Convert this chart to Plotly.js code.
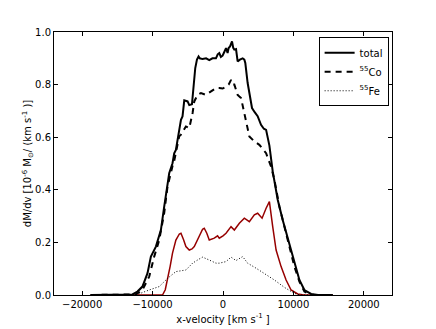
<!DOCTYPE html>
<html>
<head>
<meta charset="utf-8">
<script src="https://cdn.plot.ly/plotly-3.0.1.min.js"></script>
<style>
  html, body { margin: 0; padding: 0; background: #fff; }
  #chart { width: 436px; height: 329px; }
</style>
</head>
<body>
<div id="chart"></div>
<script>
'use strict';

// velocity grid (km/s) and dM/dv values (1e-6 Msun per km/s)
const totalV = [-18800, -13500, -12860, -12150, -11440, -10720, -10240, -9530, -8820, -8350,
  -7640, -7170, -6930, -6690, -6220, -5970, -5750, -5500, -5030, -4790, -4410, -4100, -3940,
  -3700, -3470, -3300, -2900, -2400, -1950, -1500, -1000, -750, -530, -300, -60, 200, 430,
  650, 800, 1000, 1280, 1450, 1610, 1850, 2080, 2400, 2790, 3030, 3170, 3500, 3740, 4120,
  4500, 4920, 5400, 5800, 6120, 6590, 7060, 7770, 8480, 9430, 10140, 10850, 11560, 12520,
  13500, 15600];
const totalM = [0, 0, 0.002, 0.013, 0.032, 0.083, 0.146, 0.184, 0.247, 0.336,
  0.463, 0.501, 0.539, 0.552, 0.628, 0.666, 0.679, 0.740, 0.736, 0.722, 0.725, 0.800, 0.863,
  0.895, 0.907, 0.900, 0.897, 0.900, 0.893, 0.900, 0.900, 0.915, 0.920, 0.905, 0.910, 0.925, 0.939,
  0.920, 0.939, 0.945, 0.964, 0.940, 0.933, 0.935, 0.888, 0.895, 0.900, 0.895, 0.882, 0.806, 0.768, 0.711,
  0.695, 0.680, 0.647, 0.632, 0.628, 0.568, 0.470, 0.362, 0.285, 0.197, 0.121, 0.057, 0.019, 0.004,
  0, 0];

const coV = [-18800, -13000, -12380, -11440, -10480, -9770, -9060, -8350, -7880, -7170, -6930,
  -6220, -5970, -5270, -4790, -4320, -4080, -3610, -3130, -2420, -1710, -1000, -530, -50, 510,
  800, 1140, 1400, 1610, 2080, 2560, 3150, 3740, 4450, 5160, 6120, 6830, 7300, 8010, 8720,
  9430, 10140, 10850, 11560, 12300, 13000, 15600];
const coM = [0, 0, 0.002, 0.019, 0.070, 0.146, 0.209, 0.311, 0.412, 0.490, 0.510,
  0.603, 0.610, 0.641, 0.635, 0.692, 0.736, 0.761, 0.768, 0.761, 0.774, 0.787, 0.787, 0.785, 0.793,
  0.800, 0.818, 0.800, 0.800, 0.761, 0.749, 0.680, 0.603, 0.584, 0.571, 0.539, 0.488, 0.438, 0.336, 0.260,
  0.184, 0.108, 0.051, 0.013, 0.002, 0, 0];

const feV = [-18800, -12600, -12150, -10480, -9060, -7880, -6690, -5270, -4320, -3500, -2900,
  -1950, -1000, -530, 430, 1140, 1850, 2790, 3500, 4690, 5870, 7300, 8720, 10140, 11000, 15600];
const feM = [0, 0, 0.002, 0.019, 0.032, 0.063, 0.089, 0.095, 0.121, 0.135, 0.144,
  0.133, 0.121, 0.121, 0.127, 0.144, 0.131, 0.146, 0.121, 0.102, 0.083, 0.057, 0.029, 0.006, 0, 0];

const redV = [-18800, -8590, -8200, -7880, -7500, -7170, -6690, -6200, -5970, -5600, -5270,
  -4790, -4400, -4080, -3370, -2900, -2660, -2300, -1950, -1240, -770, -530, 0, 430, 1140, 1610,
  2320, 3030, 3740, 4450, 4920, 5550, 6120, 6590, 7060, 7540, 8250, 8960, 9670, 10610, 11500, 15600];
const redM = [0, 0, 0.020, 0.057, 0.110, 0.159, 0.209, 0.232, 0.235, 0.210, 0.184,
  0.171, 0.175, 0.184, 0.228, 0.250, 0.254, 0.235, 0.209, 0.216, 0.225, 0.216, 0.225, 0.235, 0.260, 0.247,
  0.273, 0.292, 0.279, 0.305, 0.311, 0.292, 0.330, 0.355, 0.260, 0.171, 0.108, 0.057, 0.019, 0.004, 0, 0];

const xTicks = [-20000, -10000, 0, 10000, 20000];
const yTicks = [0, 0.2, 0.4, 0.6, 0.8, 1.0];

const FONT = '"DejaVu Sans", sans-serif';

const traces = [
  {x: redV, y: redM, type: 'scatter', mode: 'lines', showlegend: false,
    line: {color: '#960000', width: 1.5}},
  {x: feV, y: feM, type: 'scatter', mode: 'lines', name: '<sup>55</sup>Fe',
    line: {color: '#000', width: 1, dash: '1px,2px'}},
  {x: coV, y: coM, type: 'scatter', mode: 'lines', name: '<sup>55</sup>Co',
    line: {color: '#000', width: 2, dash: '6px,5px'}},
  {x: totalV, y: totalM, type: 'scatter', mode: 'lines', name: 'total',
    line: {color: '#000', width: 2}}
];

const axisCommon = {
  showgrid: false,
  zeroline: false,
  showline: true,
  linecolor: '#000',
  linewidth: 1,
  mirror: 'ticks',
  ticks: 'inside',
  ticklen: 4,
  tickcolor: '#000',
  tickfont: {family: FONT, size: 10, color: '#000'},
  automargin: false
};

const layout = {
  width: 436,
  height: 329,
  margin: {l: 54, r: 44, t: 32, b: 34},
  paper_bgcolor: '#fff',
  plot_bgcolor: '#fff',
  font: {family: FONT, size: 10, color: '#000'},
  xaxis: Object.assign({}, axisCommon, {
    range: [-24000, 24000],
    tickmode: 'array',
    tickvals: xTicks,
    ticktext: xTicks.map(v => String(v).replace('-', '\u2212')),
    title: {text: 'x-velocity [km s<sup>-1</sup> ]', font: {family: FONT, size: 10}, standoff: 6}
  }),
  yaxis: Object.assign({}, axisCommon, {
    range: [0, 1.0],
    tickmode: 'array',
    tickvals: yTicks,
    ticktext: yTicks.map(v => v.toFixed(1)),
    title: {text: 'dM/dv [10<sup>-6</sup> M<sub>\u2299</sub>/ (km s<sup>-1</sup> )]',
      font: {family: FONT, size: 10}, standoff: 0}
  }),
  legend: {
    x: 0.99, xanchor: 'right', y: 0.98, yanchor: 'top',
    bordercolor: '#000', borderwidth: 1, bgcolor: '#fff',
    traceorder: 'reversed',
    itemwidth: 30,
    tracegroupgap: 0,
    font: {family: FONT, size: 10}
  },
  showlegend: true
};

Plotly.newPlot('chart', traces, layout, {staticPlot: true, displayModeBar: false});
</script>
</body>
</html>
